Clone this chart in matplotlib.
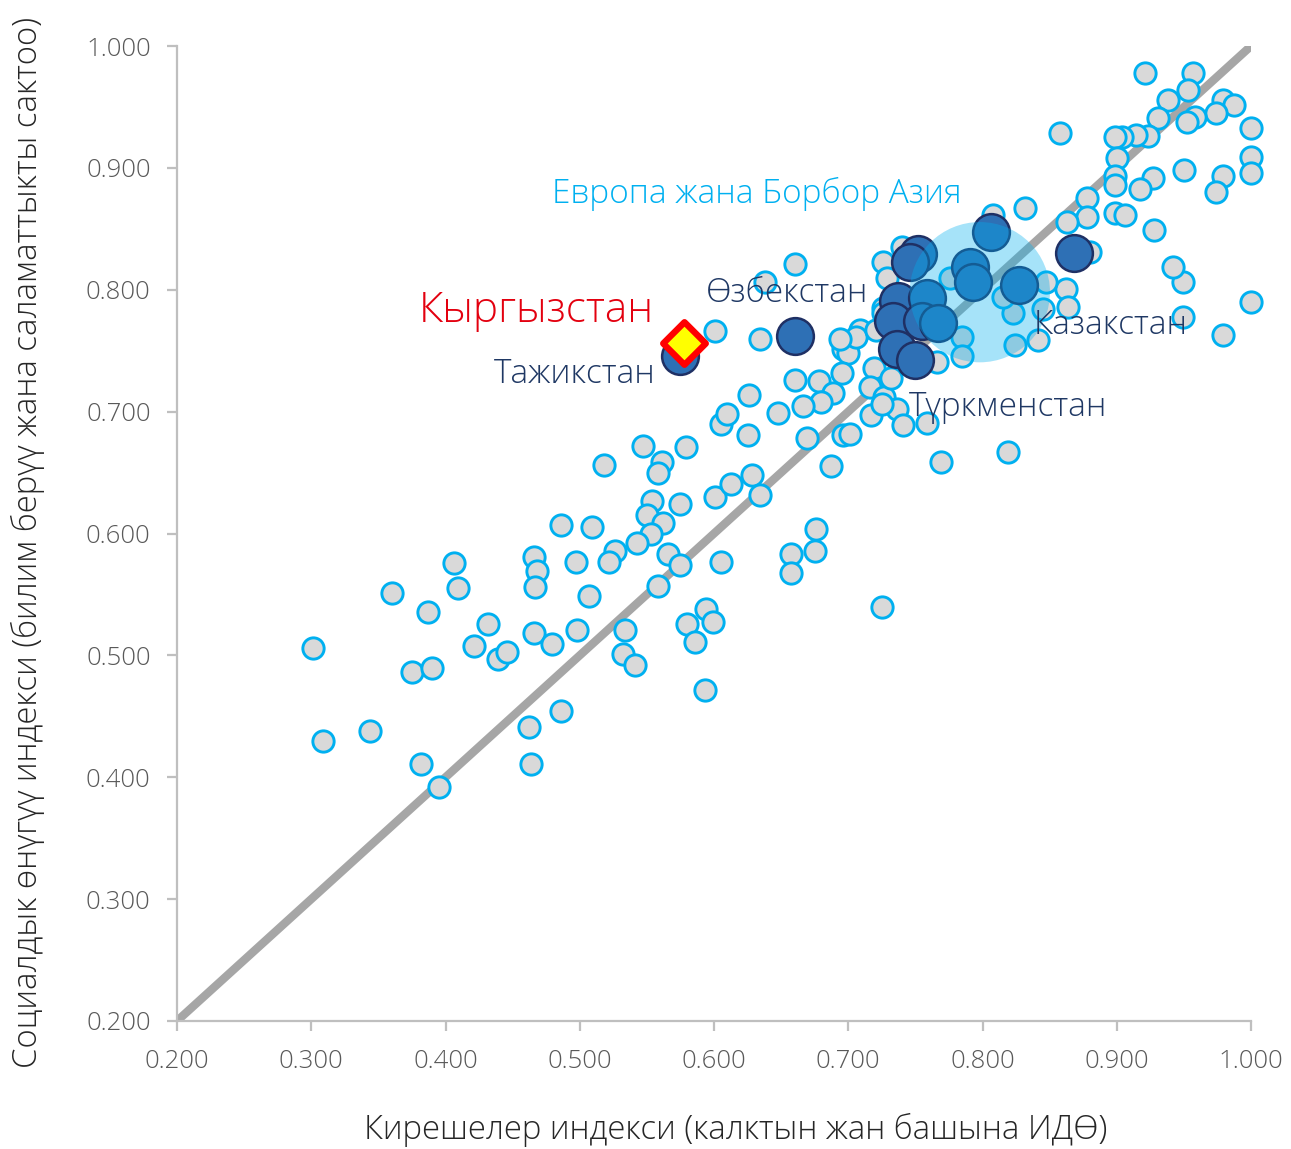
import matplotlib.pyplot as plt
import numpy as np

plt.rcParams["font.family"] = ["Open Sans", "DejaVu Sans"]

# All countries (gray)
world_x = [
    0.301, 0.309, 0.344, 0.360, 0.375, 0.390, 0.382, 0.395, 0.387, 0.406,
    0.409, 0.421, 0.432, 0.439, 0.446, 0.462, 0.464, 0.466, 0.466, 0.468,
    0.467, 0.479, 0.486, 0.486, 0.497, 0.498, 0.507, 0.509, 0.518, 0.547,
    0.579, 0.561, 0.558, 0.601, 0.613, 0.628, 0.634, 0.554, 0.575, 0.550,
    0.562, 0.553, 0.543, 0.526, 0.522, 0.566, 0.575, 0.605, 0.558, 0.534,
    0.532, 0.541, 0.580, 0.594, 0.599, 0.586, 0.593, 0.676, 0.675, 0.657,
    0.657, 0.687, 0.696, 0.669, 0.625, 0.605, 0.610, 0.648, 0.601, 0.634,
    0.660, 0.678, 0.696, 0.700, 0.709, 0.706, 0.695, 0.689, 0.680, 0.666,
    0.626, 0.719, 0.716, 0.717, 0.727, 0.732, 0.736, 0.741, 0.759, 0.694,
    0.721, 0.701, 0.660, 0.638, 0.726, 0.729, 0.726, 0.785, 0.785, 0.766,
    0.726, 0.725, 0.832, 0.808, 0.878, 0.878, 0.863, 0.740, 0.862, 0.847,
    0.864, 0.845, 0.823, 0.949, 0.949, 1.000, 0.979, 0.841, 0.824, 0.819,
    0.942, 0.880, 0.921, 0.957, 0.953, 0.938, 0.979, 0.987, 0.974, 0.958,
    0.952, 0.931, 0.923, 0.914, 0.904, 0.899, 1.000, 0.858, 0.900, 1.000,
    1.000, 0.950, 0.979, 0.974, 0.899, 0.899, 0.927, 0.917, 0.899, 0.906,
    0.928, 0.725, 0.769, 0.776, 0.815,
]
world_y = [
    0.506, 0.430, 0.438, 0.551, 0.486, 0.490, 0.411, 0.392, 0.536, 0.576,
    0.555, 0.508, 0.526, 0.497, 0.503, 0.441, 0.411, 0.518, 0.581, 0.569,
    0.556, 0.509, 0.454, 0.607, 0.577, 0.521, 0.549, 0.605, 0.656, 0.672,
    0.671, 0.659, 0.650, 0.630, 0.641, 0.648, 0.632, 0.627, 0.624, 0.615,
    0.609, 0.600, 0.592, 0.586, 0.577, 0.583, 0.574, 0.577, 0.557, 0.521,
    0.501, 0.492, 0.526, 0.538, 0.527, 0.511, 0.472, 0.604, 0.586, 0.583,
    0.568, 0.655, 0.681, 0.678, 0.681, 0.690, 0.698, 0.699, 0.766, 0.760,
    0.726, 0.725, 0.751, 0.748, 0.767, 0.761, 0.732, 0.715, 0.708, 0.705,
    0.714, 0.736, 0.720, 0.697, 0.712, 0.728, 0.702, 0.689, 0.691, 0.760,
    0.767, 0.682, 0.821, 0.806, 0.823, 0.810, 0.785, 0.761, 0.746, 0.741,
    0.781, 0.706, 0.867, 0.861, 0.875, 0.860, 0.856, 0.835, 0.801, 0.806,
    0.786, 0.784, 0.781, 0.806, 0.778, 0.790, 0.763, 0.759, 0.755, 0.667,
    0.819, 0.831, 0.978, 0.978, 0.964, 0.956, 0.956, 0.952, 0.945, 0.942,
    0.938, 0.941, 0.926, 0.927, 0.925, 0.925, 0.933, 0.929, 0.908, 0.909,
    0.896, 0.898, 0.893, 0.880, 0.893, 0.886, 0.892, 0.883, 0.863, 0.861,
    0.849, 0.540, 0.659, 0.810, 0.794,
]

# Europe and Central Asia countries (dark blue)
eca_x = [0.806, 0.868, 0.791, 0.793, 0.827, 0.752, 0.746, 0.737, 0.759, 0.733,
         0.755, 0.767, 0.736, 0.750, 0.660, 0.575]
eca_y = [0.847, 0.830, 0.819, 0.806, 0.804, 0.829, 0.823, 0.791, 0.793, 0.774,
         0.774, 0.773, 0.751, 0.742, 0.762, 0.746]

# regional average and Kyrgyzstan
region_x, region_y = 0.798, 0.798
kgz_x, kgz_y = 0.578, 0.756

ticks = [0.2, 0.3, 0.4, 0.5, 0.6, 0.7, 0.8, 0.9, 1.0]
tick_labels = ["0.200", "0.300", "0.400", "0.500", "0.600", "0.700", "0.800", "0.900", "1.000"]

labels = [
    ("Өзбекстан", 0.594, 0.797),
    ("Тажикстан", 0.436, 0.731),
    ("Казакстан", 0.838, 0.771),
    ("Түркменстан", 0.745, 0.704),
]

navy = "#1F3864"
sky = "#00B0F0"

fig = plt.figure(figsize=(12.91, 11.49), dpi=100)
ax = fig.add_axes([177 / 1291, 1 - 1021 / 1149, 1074 / 1291, 975 / 1149])

ax.plot([0.2, 1.0], [0.2, 1.0], color="#A6A6A6", lw=6, zorder=1, solid_capstyle="butt")
ax.scatter(world_x, world_y, s=235, facecolor="#D9D9D9", edgecolor=sky,
           linewidth=2.1, zorder=2, clip_on=False)
ax.scatter(eca_x, eca_y, s=700, facecolor="#2E70B5", edgecolor="#1F3064",
           linewidth=1.8, zorder=3, clip_on=False)
ax.scatter([region_x], [region_y], s=10200, facecolor=sky, alpha=0.35,
           edgecolor="none", zorder=4)
ax.scatter([kgz_x], [kgz_y], marker="D", s=470, facecolor="#FFFF00",
           edgecolor="#FF0000", linewidth=4.6, zorder=6)

for txt, lx, ly in labels:
    ax.text(lx, ly, txt, color=navy, fontsize=24, fontweight="light",
            va="center", ha="left", zorder=5)
ax.text(0.380, 0.783, "Кыргызстан", color="#E3000F", fontsize=30.5,
        fontweight="light", va="center", ha="left", zorder=5)
ax.text(0.479, 0.879, "Европа жана Борбор Азия", color=sky, fontsize=24,
        fontweight="light", va="center", ha="left", zorder=5)

ax.set_xlim(0.2, 1.0)
ax.set_ylim(0.2, 1.0)
ax.set_xticks(ticks)
ax.set_xticklabels(tick_labels, fontweight="light")
ax.set_yticks(ticks)
ax.set_yticklabels(tick_labels, fontweight="light")
for side in ["top", "right"]:
    ax.spines[side].set_visible(False)
for side in ["left", "bottom"]:
    ax.spines[side].set_color("#BFBFBF")
    ax.spines[side].set_linewidth(1.6)
ax.tick_params(axis="both", colors="#BFBFBF", length=7, width=1.6,
               labelcolor="#595959", labelsize=18.5)
ax.tick_params(axis="x", pad=13)
ax.tick_params(axis="y", pad=12)

ax.set_xlabel("Кирешелер индекси (калктын жан башына ИДӨ)", fontsize=23.7,
              fontweight="light", color="#262626", va="center")
ax.xaxis.set_label_coords(0.52, -0.112)
ax.set_ylabel("Социалдык өнүгүү индекси (билим берүү жана саламаттыкты сактоо)",
              fontsize=23.7, fontweight="light", color="#262626", va="center")
ax.yaxis.set_label_coords(-0.139, 0.491)

fig.savefig("out.png", dpi=100)
